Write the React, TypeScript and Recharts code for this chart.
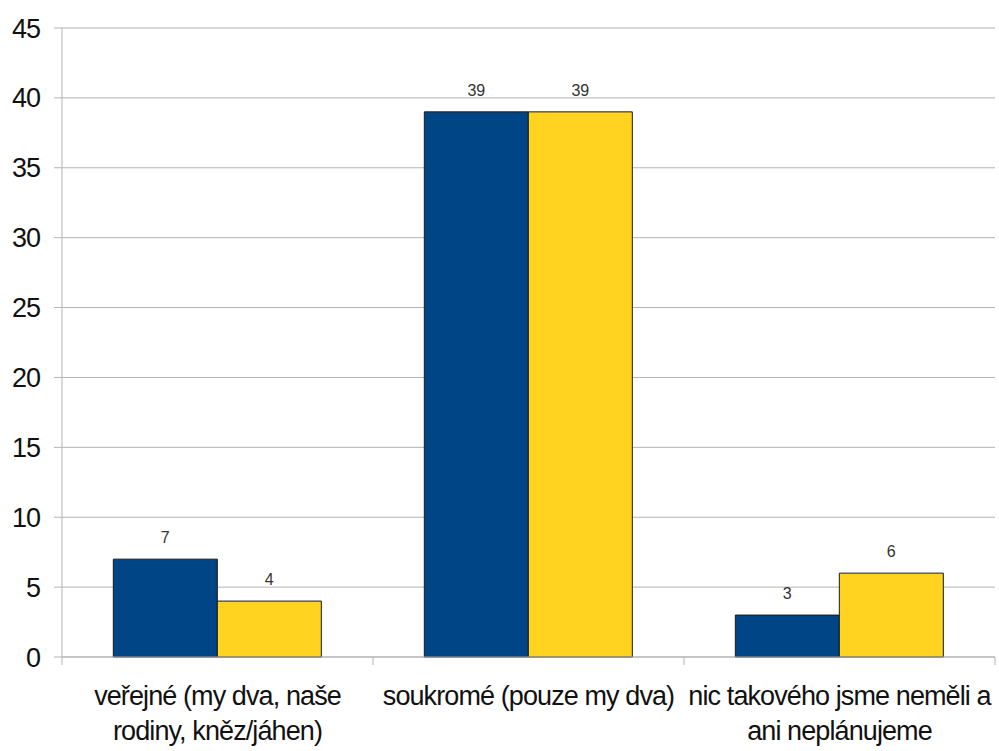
import React from "react";
import { BarChart, Bar, XAxis, YAxis, CartesianGrid, LabelList } from "recharts";

const categories = [
  "veřejné (my dva, naše rodiny, kněz/jáhen)",
  "soukromé (pouze my dva)",
  "nic takového jsme neměli a ani neplánujeme",
];
const categoryLines: string[][] = [
  ["veřejné (my dva, naše", "rodiny, kněz/jáhen)"],
  ["soukromé (pouze my dva)"],
  ["nic takového jsme neměli a", "ani neplánujeme"],
];
const seriesA = [7, 39, 3];
const seriesB = [4, 39, 6];
const yTicks = [0, 5, 10, 15, 20, 25, 30, 35, 40, 45];

const data = categories.map((c, i) => ({
  name: c,
  a: seriesA[i],
  b: seriesB[i],
}));

const W = 999;
const H = 751;
const LEFT = 62;
const RIGHT_MARGIN = 4;
const BAND = (W - LEFT - RIGHT_MARGIN) / categories.length;
const GRID = "#b3b3b3";
const FONT = "'Liberation Sans', Arial, sans-serif";

const XTick = (props: any) => {
  const { x, y, payload, index } = props;
  const lines = categoryLines[index] || [String(payload.value)];
  const left = x - BAND / 2;
  const right = x + BAND / 2;
  return (
    <g>
      <line x1={left} y1={y} x2={left} y2={y + 8} stroke={GRID} strokeWidth={1} />
      {index === categories.length - 1 && (
        <line x1={right} y1={y} x2={right} y2={y + 8} stroke={GRID} strokeWidth={1} />
      )}
      {lines.map((l, i) => (
        <text
          key={i}
          x={x}
          y={y + 48 + i * 35}
          textAnchor="middle"
          fontFamily={FONT}
          fontSize={27}
          letterSpacing={-0.9}
          fill="#111"
        >
          {l}
        </text>
      ))}
    </g>
  );
};

export default function App() {
  return (
    <div style={{ position: "absolute", left: 0, top: 0, width: W, height: H, background: "#fff" }}>
      <BarChart
        width={W}
        height={H}
        data={data}
        margin={{ top: 28, right: RIGHT_MARGIN, left: 0, bottom: 0 }}
        barCategoryGap="16.5%"
        barGap={0}
      >
        <CartesianGrid vertical={false} stroke={GRID} strokeWidth={1} />
        <XAxis
          dataKey="name"
          height={94}
          axisLine={{ stroke: GRID }}
          tickLine={false}
          tickSize={0}
          tickMargin={0}
          interval={0}
          tick={<XTick />}
        />
        <YAxis
          width={LEFT}
          domain={[0, 45]}
          ticks={yTicks}
          interval={0}
          axisLine={{ stroke: GRID }}
          tickLine={{ stroke: GRID }}
          tickSize={8}
          tickMargin={14}
          tick={{ fontFamily: FONT, fontSize: 27, fill: "#111", letterSpacing: -1 }}
        />
        <Bar dataKey="a" fill="#004586" stroke="#1a1a1a" strokeWidth={1} isAnimationActive={false}>
          <LabelList dataKey="a" position="top" offset={16} fill="#333" fontFamily={FONT} fontSize={16} />
        </Bar>
        <Bar dataKey="b" fill="#ffd320" stroke="#1a1a1a" strokeWidth={1} isAnimationActive={false}>
          <LabelList dataKey="b" position="top" offset={16} fill="#333" fontFamily={FONT} fontSize={16} />
        </Bar>
      </BarChart>
    </div>
  );
}
